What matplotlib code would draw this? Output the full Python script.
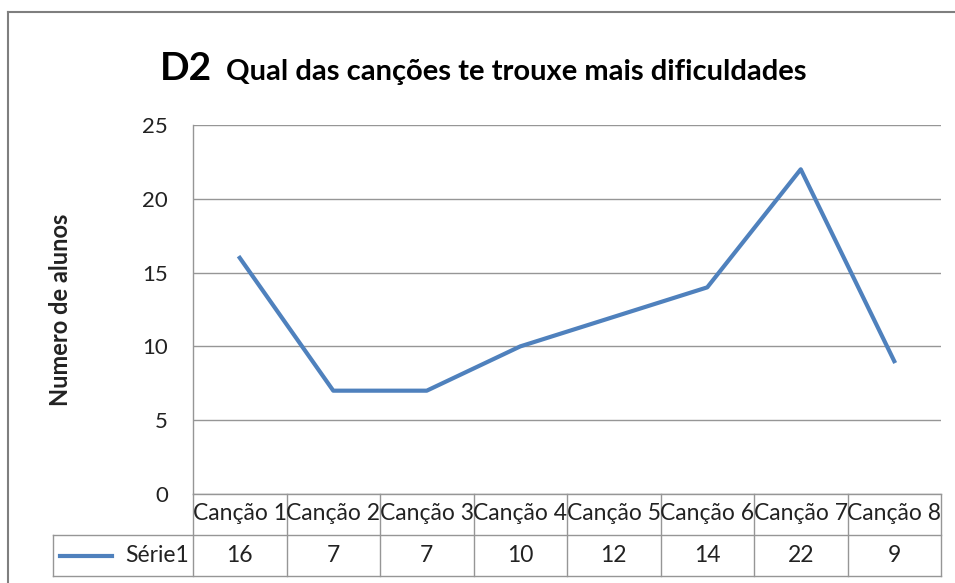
import matplotlib.pyplot as plt
from matplotlib.lines import Line2D
from matplotlib.transforms import blended_transform_factory

plt.rcParams["font.family"] = ["Lato", "DejaVu Sans"]

categories = ["Canção 1", "Canção 2", "Canção 3", "Canção 4",
              "Canção 5", "Canção 6", "Canção 7", "Canção 8"]
values = [16, 7, 7, 10, 12, 14, 22, 9]
series_name = "Série1"
y_ticks = [0, 5, 10, 15, 20, 25]

LINE_COLOR = "#4F81BD"
GRID_COLOR = "#969696"
TEXT_COLOR = "#222222"
W, H = 955, 583

fig = plt.figure(figsize=(W / 100, H / 100), dpi=100)


def fx(px):
    return px / W


def fy(py):
    return 1 - py / H


# chart border (cropped Excel frame)
fig.add_artist(Line2D([fx(8), fx(8)], [fy(12), 0], color="#7F7F7F", lw=1.5))
fig.add_artist(Line2D([fx(8), 1], [fy(12), fy(12)], color="#7F7F7F", lw=1.5))

ax = fig.add_axes([fx(193), fy(494), fx(941) - fx(193), fy(125) - fy(494)])
x = list(range(len(categories)))
ax.plot(x, values, color=LINE_COLOR, lw=3, solid_joinstyle="round")
ax.set_xlim(-0.5, len(categories) - 0.5)
ax.set_ylim(0, 25)
ax.set_yticks(y_ticks)
ax.set_yticklabels([str(t) for t in y_ticks], fontsize=16, color=TEXT_COLOR)
ax.tick_params(axis="y", length=0, pad=18)
ax.set_xticks([])
ax.grid(axis="y", color=GRID_COLOR, lw=1)
ax.set_axisbelow(True)
for s in ["top", "right", "bottom"]:
    ax.spines[s].set_visible(False)
ax.spines["left"].set_color(GRID_COLOR)
ax.spines["left"].set_linewidth(1)
ax.set_ylabel("Numero de alunos", fontsize=17, fontweight="bold", color=TEXT_COLOR)
ax.yaxis.set_label_coords((60 - 193) / (941 - 193), 0.5)
ax.yaxis.label.set_va("center")

# title: big "D2" + rest
fig.text(fx(160), fy(80), "D2", fontsize=28, fontweight="bold", ha="left", va="baseline")
fig.text(fx(226), fy(80), "Qual das canções te trouxe mais dificuldades",
         fontsize=21, fontweight="bold", ha="left", va="baseline")

# data table below the axes
tr = blended_transform_factory(ax.transData, fig.transFigure)
row_top, row_mid, row_bot = fy(494), fy(535), fy(576)
edges = [i - 0.5 for i in range(len(categories) + 1)]
for e in edges:
    ax.add_line(Line2D([e, e], [row_top, row_bot], transform=tr, color=GRID_COLOR,
                       lw=1, clip_on=False))
left_px = fx(53)
fig.add_artist(Line2D([left_px, left_px], [row_mid, row_bot], color=GRID_COLOR, lw=1))
fig.add_artist(Line2D([left_px, fx(941)], [row_mid, row_mid], color=GRID_COLOR, lw=1))
fig.add_artist(Line2D([left_px, fx(941)], [row_bot, row_bot], color=GRID_COLOR, lw=1))
fig.add_artist(Line2D([fx(193), fx(941)], [row_top, row_top], color=GRID_COLOR, lw=1))

for i, (c, v) in enumerate(zip(categories, values)):
    ax.text(i, fy(514), c, transform=tr, ha="center", va="center",
            fontsize=16.5, color=TEXT_COLOR, clip_on=False)
    ax.text(i, fy(556), str(v), transform=tr, ha="center", va="center",
            fontsize=16.5, color=TEXT_COLOR, clip_on=False)

# legend key in the table
fig.add_artist(Line2D([fx(60), fx(112)], [fy(556), fy(556)], color=LINE_COLOR, lw=3))
fig.text(fx(189), fy(556), series_name, ha="right", va="center", fontsize=16.5,
         color=TEXT_COLOR)

fig.savefig("out.png", dpi=100)
